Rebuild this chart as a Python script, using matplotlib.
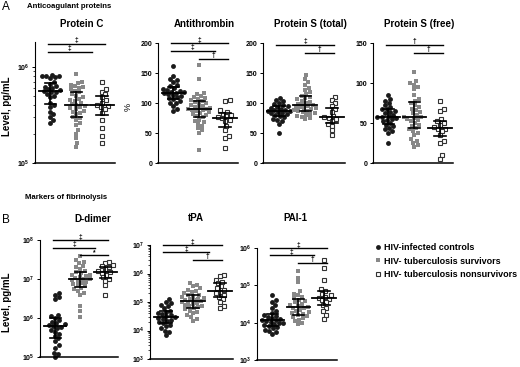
import numpy as np
import matplotlib
matplotlib.use("Agg")
import matplotlib.pyplot as plt
from matplotlib.lines import Line2D
from matplotlib.ticker import FuncFormatter, LogLocator, NullLocator, NullFormatter
import matplotlib.transforms as mtransforms

plt.rcParams['font.family'] = ['Liberation Sans', 'DejaVu Sans']
plt.rcParams['mathtext.fontset'] = 'custom'
plt.rcParams['mathtext.rm'] = 'Liberation Sans'
plt.rcParams['mathtext.bf'] = 'Liberation Sans:bold'

W, H = 520, 367

group_labels = ["HIV-infected controls", "HIV- tuberculosis survivors",
                "HIV- tuberculosis nonsurvivors"]

# --- Anticoagulant proteins ---
protein_c_controls = [8.2e5, 8.0e5, 8.0e5, 7.9e5, 7.8e5, 7.6e5, 7.0e5, 6.6e5, 6.3e5,
                      6.2e5, 6.0e5, 5.8e5, 5.7e5, 5.6e5, 5.5e5, 5.4e5, 5.2e5, 5.0e5,
                      4.8e5, 4.2e5, 4.0e5, 3.8e5, 3.4e5, 3.2e5, 3.0e5, 2.8e5, 2.6e5]
protein_c_survivors = [8.4e5, 7.0e5, 6.8e5, 6.5e5, 6.3e5, 6.1e5, 6.0e5, 5.8e5, 5.6e5,
                       5.4e5, 5.2e5, 5.0e5, 4.8e5, 4.6e5, 4.5e5, 4.4e5, 4.2e5, 4.1e5,
                       4.0e5, 3.9e5, 3.8e5, 3.7e5, 3.6e5, 3.5e5, 3.4e5, 3.3e5, 3.2e5,
                       3.0e5, 2.9e5, 2.8e5, 2.6e5, 2.5e5, 2.2e5, 2.0e5, 1.8e5, 1.6e5,
                       1.45e5]
protein_c_nonsurvivors = [7.0e5, 5.8e5, 5.5e5, 5.2e5, 4.8e5, 4.5e5, 4.2e5, 4.0e5, 3.9e5,
                          3.8e5, 3.6e5, 3.3e5, 2.8e5, 2.3e5, 1.9e5, 1.6e5]

antithrombin_controls = [162, 145, 140, 138, 135, 130, 128, 125, 123, 122, 120, 119,
                         118, 117, 116, 115, 113, 112, 110, 108, 106, 104, 100, 100,
                         95, 90, 86]
antithrombin_survivors = [164, 140, 117, 115, 112, 110, 108, 107, 105, 103, 102, 100,
                          98, 97, 95, 93, 92, 91, 90, 90, 89, 88, 87, 85, 83, 81, 80,
                          78, 76, 72, 70, 68, 65, 62, 58, 55, 50, 22]
antithrombin_nonsurvivors = [105, 103, 88, 85, 82, 80, 78, 76, 75, 72, 70, 62, 55, 45,
                             42, 25]

protein_s_total_controls = [108, 105, 103, 100, 98, 96, 95, 93, 92, 90, 89, 88, 87, 86,
                            85, 84, 83, 82, 80, 78, 76, 74, 72, 70, 65, 50]
protein_s_total_survivors = [147, 140, 135, 130, 125, 122, 118, 115, 112, 110, 108, 106,
                             104, 102, 100, 98, 97, 96, 95, 94, 93, 92, 91, 90, 88, 87,
                             86, 85, 83, 82, 80, 78, 77, 75, 73]
protein_s_total_nonsurvivors = [110, 105, 100, 95, 90, 85, 78, 76, 75, 73, 70, 65, 62,
                                55, 47]

protein_s_free_controls = [85, 80, 78, 75, 72, 70, 68, 67, 65, 64, 62, 60, 59, 58, 57,
                           56, 55, 54, 52, 50, 48, 46, 44, 42, 40, 38, 25]
protein_s_free_survivors = [114, 103, 100, 98, 95, 92, 85, 80, 78, 75, 72, 70, 68, 66,
                            64, 62, 60, 58, 57, 56, 55, 54, 52, 50, 48, 46, 44, 42, 40,
                            38, 35, 30, 27, 25, 22, 20]
protein_s_free_nonsurvivors = [77, 68, 65, 55, 52, 50, 48, 45, 43, 42, 40, 35, 28, 25,
                               10, 5]

# --- Markers of fibrinolysis ---
d_dimer_controls = [4.5e6, 4.0e6, 3.5e6, 3.0e6, 1.2e6, 1.1e6, 1.0e6, 9e5, 8e5, 7.5e5,
                    7e5, 6.5e5, 6.2e5, 6e5, 5.5e5, 5e5, 4.5e5, 4e5, 3.5e5, 3e5, 2.5e5,
                    2e5, 1.7e5, 1.3e5, 1.2e5, 1.0e5]
d_dimer_survivors = [3.8e7, 3.0e7, 2.8e7, 2.5e7, 2.2e7, 2.0e7, 1.8e7, 1.6e7, 1.5e7,
                     1.4e7, 1.3e7, 1.25e7, 1.2e7, 1.1e7, 1.05e7, 1.0e7, 1.0e7, 9.5e6,
                     9e6, 8.5e6, 8e6, 7.5e6, 7e6, 6.5e6, 6e6, 5.5e6, 5e6, 4.5e6, 4e6,
                     2e6, 1.5e6, 1.05e6]
d_dimer_nonsurvivors = [2.7e7, 2.5e7, 2.3e7, 2.1e7, 2.0e7, 1.8e7, 1.6e7, 1.5e7, 1.4e7,
                        1.3e7, 1.1e7, 1.0e7, 9e6, 7e6, 4e6]

tpa_controls = [1.3e5, 1.0e5, 9e4, 8e4, 7e4, 6e4, 5e4, 4.5e4, 4e4, 3.8e4, 3.5e4, 3.2e4,
                3e4, 2.8e4, 2.6e4, 2.4e4, 2.2e4, 2e4, 1.8e4, 1.6e4, 1.4e4, 1.2e4, 1e4,
                9e3, 7e3]
tpa_survivors = [4.7e5, 4e5, 3.5e5, 3e5, 2.7e5, 2.4e5, 2.2e5, 2e5, 1.8e5, 1.7e5, 1.6e5,
                 1.5e5, 1.4e5, 1.3e5, 1.25e5, 1.2e5, 1.15e5, 1.1e5, 1e5, 9.5e4, 9e4,
                 8.5e4, 8e4, 7.5e4, 7e4, 6.5e4, 6e4, 5.5e4, 5e4, 4.5e4, 4e4, 3.5e4,
                 3e4, 2.6e4, 2.2e4]
tpa_nonsurvivors = [9e5, 8e5, 6e5, 5e5, 4.5e5, 3.5e5, 3e5, 2.6e5, 2.3e5, 2e5, 1.8e5,
                    1.5e5, 1.3e5, 1e5, 7e4, 6e4]

pai1_controls = [5.5e4, 4e4, 3.5e4, 3e4, 2.5e4, 2e4, 1.8e4, 1.6e4, 1.5e4, 1.4e4, 1.3e4,
                 1.25e4, 1.2e4, 1.15e4, 1.1e4, 1.05e4, 1e4, 9.5e3, 9e3, 8.5e3, 8e3,
                 7.5e3, 7e3, 6.5e3, 6e3, 5.5e3, 5e3]
pai1_survivors = [2.4e5, 1.6e5, 1.2e5, 7e4, 6e4, 5.5e4, 5e4, 4.5e4, 4e4, 3.8e4, 3.5e4,
                  3.2e4, 3e4, 2.8e4, 2.6e4, 2.5e4, 2.4e4, 2.2e4, 2e4, 1.9e4, 1.8e4,
                  1.7e4, 1.6e4, 1.5e4, 1.4e4, 1.3e4, 1.2e4, 1.1e4, 1e4, 9e3]
pai1_nonsurvivors = [4.9e5, 2.9e5, 1.4e5, 8e4, 7e4, 6e4, 5.5e4, 5e4, 4.7e4, 4.3e4, 4e4,
                     3.5e4, 3e4, 2.5e4, 2e4, 1.6e4, 1.25e4]

# significance bars: (from group, to group, symbol)
protein_c_sig = [(1, 3, '‡'), (1, 2, '‡')]
antithrombin_sig = [(1, 3, '‡'), (1, 2, '‡'), (2, 3, '†')]
protein_s_total_sig = [(1, 3, '‡'), (2, 3, '†')]
protein_s_free_sig = [(1, 3, '†'), (2, 3, '†')]
d_dimer_sig = [(1, 3, '‡'), (1, 2, '‡'), (2, 3, '*')]
tpa_sig = [(1, 3, '‡'), (1, 2, '‡'), (2, 3, '†')]
pai1_sig = [(1, 3, '‡'), (1, 2, '‡'), (2, 3, '†')]

# layout in pixels: left, right, top, bottom
panels = [
    dict(title="Protein C", box=(35, 115, 42, 163), log=True, ylim=(1e5, 1.8e6),
         minor=True, data=(protein_c_controls, protein_c_survivors, protein_c_nonsurvivors),
         sig=protein_c_sig, ylabel="Level, pg/mL", title_y=24, title_x=2.2),
    dict(title="Antithrombin", box=(158, 238, 43, 163), log=False, ylim=(0, 200),
         ticks=[0, 50, 100, 150, 200],
         data=(antithrombin_controls, antithrombin_survivors, antithrombin_nonsurvivors),
         sig=antithrombin_sig, ylabel="%", title_y=24, title_x=2.2),
    dict(title="Protein S (total)", box=(263, 345, 43, 163), log=False, ylim=(0, 200),
         ticks=[0, 50, 100, 150, 200],
         data=(protein_s_total_controls, protein_s_total_survivors,
               protein_s_total_nonsurvivors),
         sig=protein_s_total_sig, title_y=24, title_x=2.2),
    dict(title="Protein S (free)", box=(373, 453, 43, 163), log=False, ylim=(0, 150),
         ticks=[0, 50, 100, 150],
         data=(protein_s_free_controls, protein_s_free_survivors,
               protein_s_free_nonsurvivors),
         sig=protein_s_free_sig, title_y=24, title_x=2.2),
    dict(title="D-dimer", box=(40, 118, 240, 357), log=True, ylim=(1e5, 1e8),
         minor=False, data=(d_dimer_controls, d_dimer_survivors, d_dimer_nonsurvivors),
         sig=d_dimer_sig, ylabel="Level, pg/mL", title_y=219, title_x=2.5),
    dict(title="tPA", box=(150, 233, 245, 359), log=True, ylim=(1e3, 1e7),
         minor=True, data=(tpa_controls, tpa_survivors, tpa_nonsurvivors),
         sig=tpa_sig, title_y=218, title_x=2.1),
    dict(title="PAI-1", box=(257, 337, 248, 360), log=True, ylim=(1e3, 1e6),
         minor=False, data=(pai1_controls, pai1_survivors, pai1_nonsurvivors),
         sig=pai1_sig, title_y=218, title_x=1.9),
]

styles = [
    dict(marker='o', ms=3.5, mfc='#1a1a1a', mec='#1a1a1a', mew=0),
    dict(marker='s', ms=3.2, mfc='#888888', mec='#888888', mew=0),
    dict(marker='s', ms=3.2, mfc='white', mec='#333333', mew=0.8),
]

bar_span = {(1, 3): (0.9, 3.1), (1, 2): (0.9, 2.6), (2, 3): (2.0, 3.1)}


def swarm_offsets(ax, x0, vals, diam, max_off=11):
    """Beeswarm limited to +/- max_off pixels; overlaps allowed once full."""
    pts = ax.transData.transform(np.column_stack([np.full(len(vals), x0), vals]))
    ys = pts[:, 1]
    xc = pts[0, 0]
    placed = []
    xs = np.zeros(len(vals))
    cands = [0.0]
    step = 0.5
    k = 1
    while k * step <= max_off:
        cands += [k * step, -k * step]
        k += 1
    for i in np.argsort(ys):
        y = ys[i]
        best, best_d = 0.0, -1.0
        for c in cands:
            d = min([np.hypot(c - px, y - py) for px, py in placed] or [1e9])
            if d >= diam:
                best = c
                break
            if d > best_d:
                best, best_d = c, d
        placed.append((best, y))
        xs[i] = best
    disp = np.column_stack([xc + xs, ys])
    return ax.transData.inverted().transform(disp)[:, 0]


def log_fmt(v, pos):
    return r'$\mathbf{10^{%d}}$' % round(np.log10(v))


def main():
    fig = plt.figure(figsize=(W / 100, H / 100), dpi=100)

    for p in panels:
        l, r, t, b = p['box']
        ax = fig.add_axes([l / W, 1 - b / H, (r - l) / W, (b - t) / H])
        ax.set_xlim(0.4, 3.5)
        if p['log']:
            ax.set_yscale('log')
        ax.set_ylim(*p['ylim'])
        for s in ('top', 'right'):
            ax.spines[s].set_visible(False)
        ax.spines['left'].set_linewidth(0.8)
        ax.spines['bottom'].set_linewidth(1.1)
        ax.set_xticks([])
        ax.tick_params(axis='y', length=2.5, width=0.7, pad=1.5, labelsize=5)
        if p['log']:
            ax.yaxis.set_major_locator(LogLocator(base=10, numticks=10))
            ax.yaxis.set_major_formatter(FuncFormatter(log_fmt))
            if p.get('minor'):
                ax.yaxis.set_minor_locator(LogLocator(base=10, subs=np.arange(2, 10),
                                                      numticks=20))
                ax.tick_params(axis='y', which='minor', length=1.5, width=0.5)
            else:
                ax.yaxis.set_minor_locator(NullLocator())
            ax.yaxis.set_minor_formatter(NullFormatter())
        else:
            ax.set_yticks(p['ticks'])
            ax.set_yticklabels([str(v) for v in p['ticks']], fontweight='bold')

        for gi, (vals, st) in enumerate(zip(p['data'], styles)):
            x0 = gi + 1
            xs = swarm_offsets(ax, x0, vals, 4.2)
            ax.plot(xs, vals, linestyle='none', clip_on=False, zorder=2, **st)
            med = np.median(vals)
            q1, q3 = np.percentile(vals, [25, 75])
            ax.plot([x0 - 0.45, x0 + 0.45], [med, med], color='black', lw=1.3, zorder=3)
            ax.plot([x0, x0], [q1, q3], color='black', lw=1.2, zorder=3)
            for q in (q1, q3):
                ax.plot([x0 - 0.22, x0 + 0.22], [q, q], color='black', lw=1.2, zorder=3)

        trans = mtransforms.blended_transform_factory(ax.transData, ax.transAxes)
        levels = [0.985, 0.92] if len(p['sig']) == 2 else [1.0, 0.935, 0.87]
        for (g0, g1, sym), lev in zip(p['sig'], levels):
            x_a, x_b = bar_span[(g0, g1)]
            ax.plot([x_a, x_b], [lev, lev], color='black', lw=1.0,
                    transform=trans, clip_on=False)
            ax.text((x_a + x_b) / 2, lev - 0.005, sym, transform=trans, ha='center',
                    va='bottom', fontsize=4.8, fontweight='bold')

        if p.get('ylabel') == '%':
            ax.text((128 - l) / (r - l), 0.47, '%', transform=ax.transAxes,
                    rotation=90, ha='center', va='center', fontsize=6.5)
        elif p.get('ylabel'):
            ax.text((7 - l) / (r - l), 0.47, p['ylabel'], transform=ax.transAxes,
                    rotation=90, ha='center', va='center', fontsize=7,
                    fontweight='bold')

        tx = ax.transData.transform((p['title_x'], 1))[0] / (W * 1.0)
        fig.text(tx, 1 - p['title_y'] / H, p['title'], ha='center', va='center',
                 fontsize=7, fontweight='bold')

    fig.text(2 / W, 1 - 7 / H, 'A', fontsize=8.5, va='center', ha='left')
    fig.text(27 / W, 1 - 6 / H, 'Anticoagulant proteins', fontsize=5.6,
             fontweight='bold', va='center', ha='left')
    fig.text(2 / W, 1 - 220 / H, 'B', fontsize=8.5, va='center', ha='left')
    fig.text(25 / W, 1 - 197 / H, 'Markers of fibrinolysis', fontsize=5.6,
             fontweight='bold', va='center', ha='left')

    handles = [Line2D([], [], linestyle='none', **st) for st in styles]
    fig.legend(handles, group_labels, loc='upper left',
               bbox_to_anchor=(375 / W, 1 - 243 / H), frameon=False,
               prop=dict(size=6.5, weight='bold'), handlelength=0.6,
               handletextpad=0.4, labelspacing=0.5, borderpad=0,
               borderaxespad=0)

    fig.savefig("out.png", dpi=100)


if __name__ == "__main__":
    main()
